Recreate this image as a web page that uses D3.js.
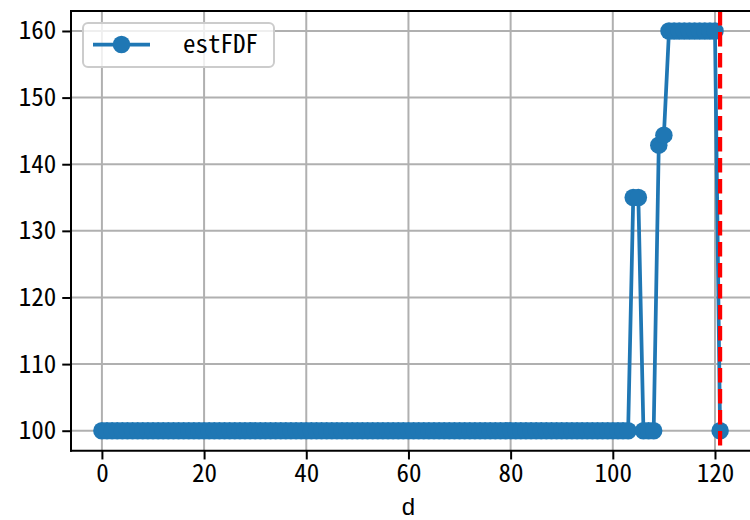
<!DOCTYPE html>
<html>
<head>
<meta charset="utf-8">
<script src="https://cdn.jsdelivr.net/npm/d3@7"></script>
<style>
  html, body { margin: 0; padding: 0; background: #fff; }
  svg { display: block; }
  text { font-family: "Noto Sans Mono CJK JP", "Noto Sans CJK JP", sans-serif; fill: #000; }
</style>
</head>
<body>
<div id="chart"></div>
<script>
// ---- data ----
const seriesName = "estFDF";
const xLabel = "d";
const estFDF = [
  100,100,100,100,100,100,100,100,100,100,
  100,100,100,100,100,100,100,100,100,100,
  100,100,100,100,100,100,100,100,100,100,
  100,100,100,100,100,100,100,100,100,100,
  100,100,100,100,100,100,100,100,100,100,
  100,100,100,100,100,100,100,100,100,100,
  100,100,100,100,100,100,100,100,100,100,
  100,100,100,100,100,100,100,100,100,100,
  100,100,100,100,100,100,100,100,100,100,
  100,100,100,100,100,100,100,100,100,100,
  100,100,100,100,135,135,100,100,100,142.86,
  144.36,160,160,160,160,160,160,160,160,160,
  160,100
];
const vlineX = 121;
const xTicks = [0, 20, 40, 60, 80, 100, 120];
const yTicks = [100, 110, 120, 130, 140, 150, 160];

// ---- layout ----
const W = 750, H = 520;
const plot = { left: 71, right: 751, top: 11, bottom: 450.7 };
const blue = "#1f77b4";
const fs = 25;

const svg = d3.select("#chart").append("svg").attr("width", W).attr("height", H);

const n = estFDF.length;
const xPad = (n - 1) * 0.05;
const x = d3.scaleLinear().domain([0 - xPad, (n - 1) + xPad]).range([plot.left, plot.right]);
const yMin = d3.min(estFDF), yMax = d3.max(estFDF);
const yPad = (yMax - yMin) * 0.05;
const y = d3.scaleLinear().domain([yMin - yPad, yMax + yPad]).range([plot.bottom, plot.top]);

// grid
const grid = svg.append("g");
grid.selectAll("line.gx").data(xTicks).join("line")
  .attr("class", "gx")
  .attr("x1", d => x(d)).attr("x2", d => x(d))
  .attr("y1", plot.top).attr("y2", plot.bottom)
  .attr("stroke", "#b0b0b0").attr("stroke-width", 2);
grid.selectAll("line.gy").data(yTicks).join("line")
  .attr("class", "gy")
  .attr("x1", plot.left).attr("x2", plot.right)
  .attr("y1", d => y(d)).attr("y2", d => y(d))
  .attr("stroke", "#b0b0b0").attr("stroke-width", 2);

// data line + markers
const dataG = svg.append("g");
const line = d3.line().x((d, i) => x(i)).y(d => y(d));
dataG.append("path").datum(estFDF)
  .attr("d", line).attr("fill", "none")
  .attr("stroke", blue).attr("stroke-width", 3.75)
  .attr("stroke-linejoin", "round");
dataG.selectAll("circle").data(estFDF).join("circle")
  .attr("cx", (d, i) => x(i)).attr("cy", d => y(d))
  .attr("r", 8.75).attr("fill", blue);

// red dashed vline
svg.append("line")
  .attr("x1", x(vlineX)).attr("x2", x(vlineX))
  .attr("y1", plot.top).attr("y2", plot.bottom)
  .attr("stroke", "#ff0000").attr("stroke-width", 4.2)
  .attr("stroke-dasharray", "14.5,6.5");

// axes
const xAxis = d3.axisBottom(x).tickValues(xTicks).tickSize(8.75).tickPadding(5).tickFormat(d3.format("d"));
const yAxis = d3.axisLeft(y).tickValues(yTicks).tickSize(8.75).tickPadding(6).tickFormat(d3.format("d"));
const gx = svg.append("g").attr("transform", `translate(0,${plot.bottom})`).call(xAxis);
const gy = svg.append("g").attr("transform", `translate(${plot.left},0)`).call(yAxis);
[gx, gy].forEach(g => {
  g.select(".domain").remove();
  g.selectAll(".tick line").attr("stroke", "#000").attr("stroke-width", 2);
  g.selectAll(".tick text").attr("font-size", fs).attr("fill", "#000")
    .style("font-family", '"Noto Sans Mono CJK JP", "Noto Sans CJK JP", sans-serif');
});

// spines
const sp = svg.append("g").attr("stroke", "#000").attr("stroke-width", 2).attr("stroke-linecap", "square");
sp.append("line").attr("x1", plot.left).attr("x2", plot.left).attr("y1", plot.top).attr("y2", plot.bottom);
sp.append("line").attr("x1", plot.left).attr("x2", plot.right).attr("y1", plot.bottom).attr("y2", plot.bottom);
sp.append("line").attr("x1", plot.left).attr("x2", plot.right).attr("y1", plot.top).attr("y2", plot.top);
sp.append("line").attr("x1", plot.right).attr("x2", plot.right).attr("y1", plot.top).attr("y2", plot.bottom);

// x label
svg.append("text").attr("x", x(60)).attr("y", 515)
  .attr("text-anchor", "middle").attr("font-size", 24)
  .style("font-family", '"Liberation Sans", Arial, sans-serif').text(xLabel);

// legend
const lg = svg.append("g");
lg.append("rect").attr("x", 83).attr("y", 23).attr("width", 191).attr("height", 44)
  .attr("rx", 5).attr("fill", "#fff").attr("fill-opacity", 0.8)
  .attr("stroke", "#cccccc").attr("stroke-width", 2);
lg.append("line").attr("x1", 93).attr("x2", 150).attr("y1", 44.5).attr("y2", 44.5)
  .attr("stroke", blue).attr("stroke-width", 3.75);
lg.append("circle").attr("cx", 121.5).attr("cy", 44.5).attr("r", 8.75).attr("fill", blue);
lg.append("text").attr("x", 158).attr("y", 53).attr("font-size", fs)
  .attr("xml:space", "preserve").style("white-space", "pre").text("  " + seriesName);
</script>
</body>
</html>
